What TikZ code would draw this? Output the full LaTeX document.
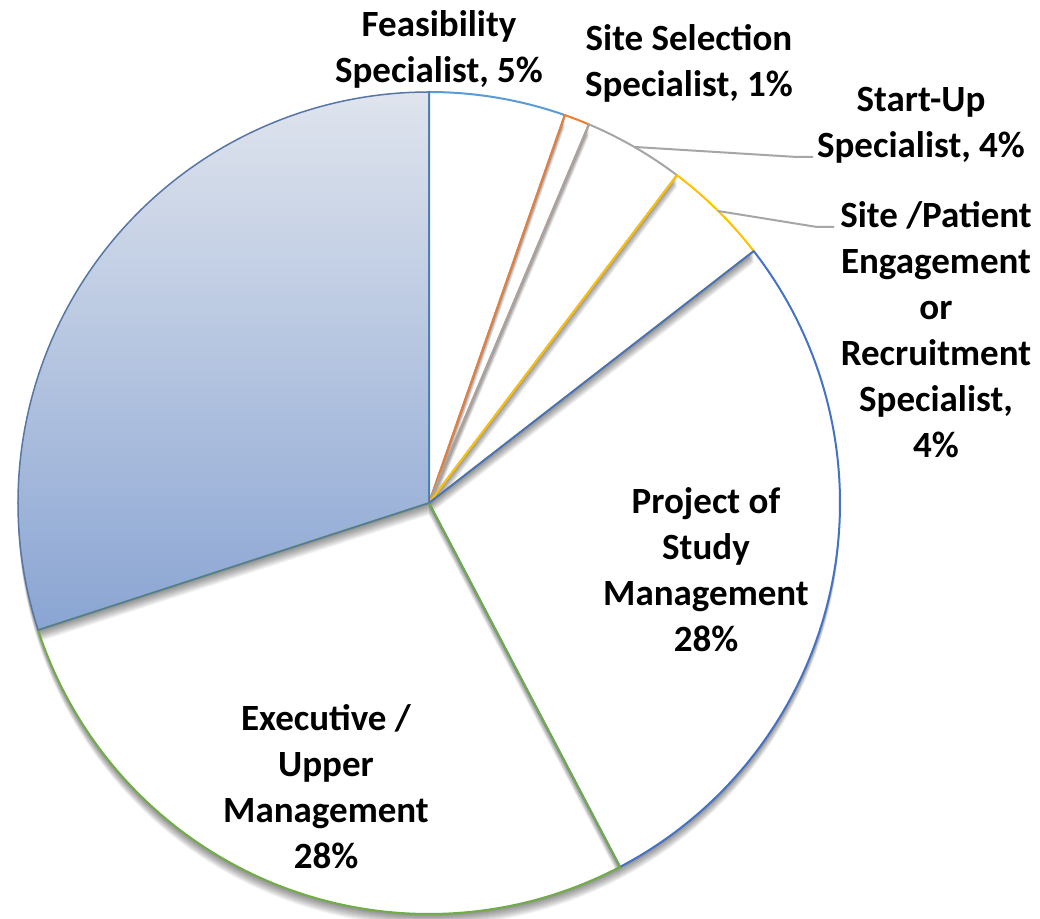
\documentclass[tikz,border=0pt]{standalone}
\usepackage{fontspec}
\setmainfont{Carlito}
\definecolor{cFeas}{HTML}{5B9BD5}
\definecolor{cSel}{HTML}{ED7D31}
\definecolor{cStart}{HTML}{A5A5A5}
\definecolor{cPat}{HTML}{FFC000}
\definecolor{cProj}{HTML}{4472C4}
\definecolor{cExec}{HTML}{70AD47}
\definecolor{cBig}{HTML}{5676A6}
\definecolor{cBigTop}{HTML}{DFE4ED}
\definecolor{cBigBot}{HTML}{8AA5D3}
\definecolor{cLead}{HTML}{A6A6A6}
\newcommand\pieslice[2]{(429,415) -- ++(#1:411) arc[start angle=#1,end angle=#2,radius=411] -- cycle}
\newcommand\pieshadow[2]{\foreach \k in {1,...,12}{\fill[black,opacity=0.042,transform canvas={yshift=-\k pt}] \pieslice{#1}{#2};}}
\begin{document}
\begin{tikzpicture}[x=1pt,y=1pt,
  lbl/.style={font=\bfseries\fontsize{37}{46}\selectfont, align=center, inner sep=0pt, text=black},
  leader/.style={draw=cLead, line width=2pt},
  rim/.style={line width=2pt, line join=round}]
\useasboundingbox (0,0) rectangle (1040,918);
\fill[white] (0,0) rectangle (1040,918);
% shadows and fills (back to front)
\pieshadow{-62.3}{-162}
\fill[white] \pieslice{-62.3}{-162};
\pieshadow{37.8}{-62.3}
\fill[white] \pieslice{37.8}{-62.3};
\pieshadow{52.9}{37.8}
\fill[white] \pieslice{52.9}{37.8};
\pieshadow{67.1}{52.9}
\fill[white] \pieslice{67.1}{52.9};
\pieshadow{70.7}{67.1}
\fill[white] \pieslice{70.7}{67.1};
\pieshadow{90}{70.7}
\fill[white] \pieslice{90}{70.7};
\pieshadow{-162}{-270}
\shade[top color=cBigTop, bottom color=cBigBot] \pieslice{-162}{-270};
% outlines
\draw[rim, cFeas] \pieslice{90}{70.7};
\draw[rim, cSel] \pieslice{70.7}{67.1};
\draw[rim, cStart] \pieslice{67.1}{52.9};
\draw[rim, cPat] \pieslice{52.9}{37.8};
\draw[rim, cProj] \pieslice{37.8}{-62.3};
\draw[rim, cExec] \pieslice{-62.3}{-162};
\draw[rim, cBig, line width=1.5pt] \pieslice{-162}{-270};
% labels
\node[lbl] (feas) at (439,869) {Feasibility\\Specialist, 5\%};
\node[lbl] (sel) at (689,855) {Site Selection\\Specialist, 1\%};
\node[lbl] (start) at (921,793) {Start-Up\\Specialist, 4\%};
\node[lbl] (pat) at (936,588) {Site /Patient\\Engagement\\or\\Recruitment\\Specialist,\\4\%};
\node[lbl] (proj) at (706,348) {Project of\\Study\\Management\\28\%};
\node[lbl] (exec) at (326,131) {Executive /\\Upper\\Management\\28\%};
% leader lines
\coordinate (startA) at (635,771);
\coordinate (startB) at (797,761);
\coordinate (startC) at (813,761);
\coordinate (patA) at (718,707);
\coordinate (patB) at (817,691);
\coordinate (patC) at (834,691);
\draw[leader] (startA) -- (startB) -- (startC);
\draw[leader] (patA) -- (patB) -- (patC);
\end{tikzpicture}
\end{document}
